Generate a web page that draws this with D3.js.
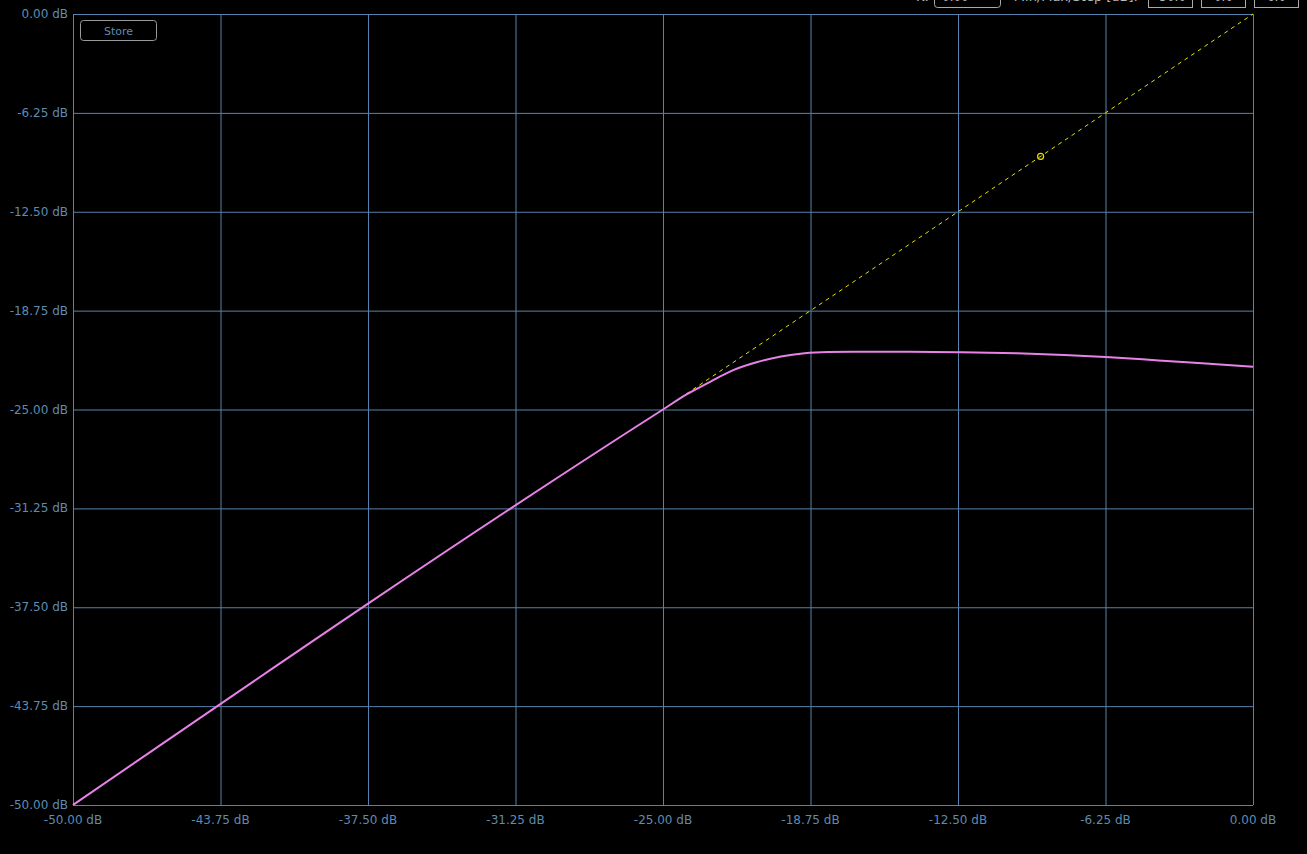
<!DOCTYPE html>
<html>
<head>
<meta charset="utf-8">
<script src="https://cdn.jsdelivr.net/npm/d3@7"></script>
<style>
  html, body { margin: 0; padding: 0; background: #000; overflow: hidden; }
  text { font-family: "DejaVu Sans", sans-serif; }
</style>
</head>
<body>
<div class="plot"></div>
<script>
const margin = {top: 14, right: 54, bottom: 49, left: 73};
const width = 1307, height = 854;
const w = width - margin.left - margin.right;
const h = height - margin.top - margin.bottom;

// tick values (dB)
const ticks = [-50, -43.75, -37.5, -31.25, -25, -18.75, -12.5, -6.25, 0];

// transfer curve: input level -> output level
const inputDb  = [-50, -25, -24, -23, -22, -21, -20, -19, -18, -17, -15, -12.5, -10, -8, -6.25, -4, -2, 0];
const outputDb = [-50, -25, -24.05, -23.25, -22.5, -22.0, -21.65, -21.45, -21.37, -21.35, -21.35, -21.38, -21.45, -21.55, -21.68, -21.9, -22.1, -22.3];

// unity reference line and handle
const refIn  = [-24.3, 0];
const refOut = [-24.3, 0];
const handle = [-9.0, -9.0];

const gridColor = "#5683ad";
const textColor = "#5f8bb2";

const svg = d3.select(".plot")
  .append("svg")
    .attr("width", width)
    .attr("height", height);

const g = svg.append("g")
  .attr("transform", "translate(" + margin.left + "," + margin.top + ")");

const x = d3.scaleLinear().domain([-50, 0]).range([0, w]);
const y = d3.scaleLinear().domain([-50, 0]).range([h, 0]);

// grid
g.selectAll(".vgrid")
  .data(ticks)
  .enter()
  .append("line")
    .attr("x1", d => x(d) + 0.5)
    .attr("x2", d => x(d) + 0.5)
    .attr("y1", 0)
    .attr("y2", h)
    .attr("stroke", gridColor)
    .attr("stroke-width", 1);

g.selectAll(".hgrid")
  .data(ticks)
  .enter()
  .append("line")
    .attr("y1", d => y(d) + 0.5)
    .attr("y2", d => y(d) + 0.5)
    .attr("x1", 0)
    .attr("x2", w)
    .attr("stroke", gridColor)
    .attr("stroke-width", 1);

// axes labels
const fmt = d => d.toFixed(2) + " dB";

g.selectAll(".xlab")
  .data(ticks)
  .enter()
  .append("text")
    .attr("x", d => x(d))
    .attr("y", h + 19)
    .attr("text-anchor", "middle")
    .attr("font-size", "12px")
    .attr("fill", textColor)
    .text(fmt);

g.selectAll(".ylab")
  .data(ticks)
  .enter()
  .append("text")
    .attr("x", -5)
    .attr("y", d => y(d) + 4)
    .attr("text-anchor", "end")
    .attr("font-size", "12px")
    .attr("fill", textColor)
    .text(fmt);

// dashed reference line
g.append("line")
  .attr("x1", x(refIn[0]))
  .attr("y1", y(refOut[0]))
  .attr("x2", x(refIn[1]))
  .attr("y2", y(refOut[1]))
  .attr("stroke", "#e8e000")
  .attr("stroke-width", 1)
  .attr("stroke-dasharray", "4,4");

g.append("circle")
  .attr("cx", x(handle[0]))
  .attr("cy", y(handle[1]))
  .attr("r", 3)
  .attr("fill", "none")
  .attr("stroke", "#e8e000")
  .attr("stroke-width", 1.2);

// transfer curve
const line = d3.line()
  .x((d, i) => x(inputDb[i]))
  .y(d => y(d))
  .curve(d3.curveMonotoneX);

g.append("path")
  .datum(outputDb)
  .attr("d", line)
  .attr("fill", "none")
  .attr("stroke", "#e882e8")
  .attr("stroke-width", 2);

// Store button
const btn = svg.append("g").attr("transform", "translate(80.5,20.5)");
btn.append("rect")
  .attr("width", 76)
  .attr("height", 20)
  .attr("rx", 3)
  .attr("fill", "#000")
  .attr("stroke", "#9a9a9a");
btn.append("text")
  .attr("x", 38)
  .attr("y", 14)
  .attr("text-anchor", "middle")
  .attr("font-size", "11px")
  .attr("fill", textColor)
  .text("Store");

// top controls (partly scrolled off the top edge)
const ctl = svg.append("g").attr("transform", "translate(0,-14)");
ctl.append("text")
  .attr("x", 929)
  .attr("y", 15)
  .attr("text-anchor", "end")
  .attr("font-size", "13px")
  .attr("fill", "#bbb")
  .text("K:");
ctl.append("rect")
  .attr("x", 934.5).attr("y", 1.5)
  .attr("width", 66).attr("height", 20)
  .attr("rx", 3)
  .attr("fill", "#000").attr("stroke", "#aaa");
ctl.append("text")
  .attr("x", 942).attr("y", 15)
  .attr("font-size", "12px").attr("fill", "#bbb")
  .text("0.00");
ctl.append("text")
  .attr("x", 1138).attr("y", 15)
  .attr("text-anchor", "end")
  .attr("font-size", "13px")
  .attr("fill", "#bbb")
  .text("Min/Max/Step [dB]:");
const boxes = [["-50.0", 1148.5], ["0.0", 1201.5], ["6.0", 1254.5]];
boxes.forEach(b => {
  ctl.append("rect")
    .attr("x", b[1]).attr("y", 1.5)
    .attr("width", 44).attr("height", 20)
    .attr("fill", "#000").attr("stroke", "#aaa");
  ctl.append("text")
    .attr("x", b[1] + 22).attr("y", 15)
    .attr("text-anchor", "middle")
    .attr("font-size", "12px").attr("fill", "#bbb")
    .text(b[0]);
});
</script>
</body>
</html>
